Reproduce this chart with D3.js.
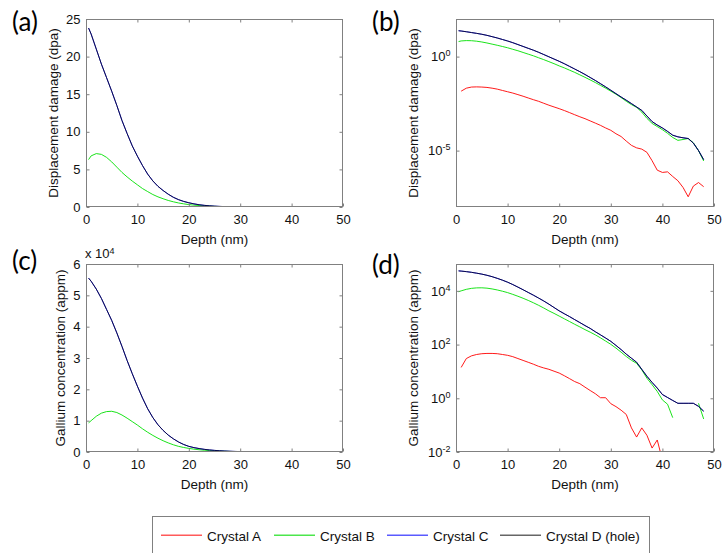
<!DOCTYPE html>
<html>
<head>
<meta charset="utf-8">
<script src="https://cdn.jsdelivr.net/npm/d3@7"></script>
<style>
  body { margin: 0; background: #fff; }
  svg { display: block; }
  text { font-family: "Liberation Sans", Arial, Helvetica, sans-serif; }
  text.tag { font-family: Lato, "Open Sans", sans-serif; }
</style>
</head>
<body>
<svg id="chart" width="723" height="553"></svg>
<script>
// Depth grid (nm) shared by every profile
const depth = [0.5, 1, 2, 3, 4, 5, 6, 7, 8, 9, 10, 11, 12, 13, 14, 15, 16, 17, 18, 19, 20,
  21, 22, 23, 24, 25, 26, 27, 28, 29, 30, 31, 32, 33, 34, 35, 36, 37, 38, 39, 40,
  41, 42, 43, 44, 45, 46, 47, 48];

// Displacement damage (dpa) per crystal
const dpaA = [null, 0.0145, 0.0209, 0.0240, 0.0245, 0.0240, 0.0229, 0.0209, 0.0186, 0.0158, 0.0135,
  0.0115, 0.0095, 0.0078, 0.0063, 0.0051, 0.0042, 0.0033, 0.0026, 0.0021, 0.0017,
  0.00135, 0.00105, 8.1e-4, 6.3e-4, 5.0e-4, 3.8e-4, 2.9e-4, 2.2e-4, 1.6e-4, 1.2e-4,
  7.9e-5, 5.6e-5, 3.2e-5, 1.9e-5, 1.4e-5, 1.2e-5, 8.1e-6, 2.9e-6, 9.1e-7, 6.9e-7,
  7.4e-7, 4.2e-7, 2.5e-7, 1.1e-7, 3.5e-8, 1.3e-7, 2.0e-7, 1.2e-7];
const dpaB = [6.3, 6.8, 7.1, 7.0, 6.6, 6.0, 5.3, 4.6, 4.0, 3.45, 2.95,
  2.45, 2.05, 1.66, 1.35, 1.10, 0.87, 0.69, 0.54, 0.42, 0.32,
  0.25, 0.19, 0.145, 0.107, 0.079, 0.0575, 0.0417, 0.0295, 0.0209, 0.0145,
  0.0100, 0.0066, 0.0042, 0.0028, 0.0020, 0.00112, 5.2e-4, 2.8e-4, 1.9e-4, 1.3e-4,
  8.3e-5, 5.0e-5, 3.5e-5, 3.9e-5, 4.4e-5, 2.6e-5, 1.0e-5, 2.8e-6];
const dpaC = [23.8, 23.0, 21.0, 19.0, 17.2, 15.4, 13.5, 11.5, 9.77, 8.13, 6.76,
  5.50, 4.37, 3.47, 2.75, 2.19, 1.70, 1.29, 0.977, 0.741, 0.562,
  0.417, 0.302, 0.219, 0.158, 0.112, 0.0776, 0.0537, 0.0363, 0.0245, 0.0162,
  0.0107, 0.00708, 0.00479, 0.00316, 0.00209, 0.00138, 6.9e-4, 3.5e-4, 2.3e-4, 1.6e-4,
  1.05e-4, 6.6e-5, 5.4e-5, 4.8e-5, 4.4e-5, 2.5e-5, 1.0e-5, 3.3e-6];
const dpaD = [23.8, 23.0, 21.0, 19.0, 17.2, 15.4, 13.5, 11.5, 9.77, 8.13, 6.76,
  5.50, 4.37, 3.47, 2.75, 2.19, 1.70, 1.29, 0.977, 0.741, 0.562,
  0.417, 0.302, 0.219, 0.158, 0.112, 0.0776, 0.0537, 0.0363, 0.0245, 0.0162,
  0.0107, 0.00708, 0.00479, 0.00316, 0.00209, 0.00138, 6.9e-4, 3.5e-4, 2.3e-4, 1.6e-4,
  1.05e-4, 6.6e-5, 5.4e-5, 4.8e-5, 4.4e-5, 2.5e-5, 1.0e-5, 3.3e-6];

// Gallium concentration (appm) per crystal
const gaA = [null, 14.1, 30.2, 38.0, 42.7, 45.7, 46.8, 46.8, 45.7, 42.7, 39.8,
  35.5, 30.2, 25.7, 21.9, 18.6, 15.5, 13.5, 12.0, 10.2, 8.7,
  6.9, 5.4, 4.2, 3.5, 2.6, 1.95, 1.48, 1.05, 1.05, 0.63,
  0.49, 0.36, 0.25, 0.079, 0.036, 0.079, 0.042, 0.014, 0.028, 0.005,
  null, null, null, null, null, null, null, null];
const gaB = [9300, 10000, 11400, 12400, 12900, 13000, 12600, 11800, 10800, 9700, 8600,
  7400, 6300, 5300, 4400, 3600, 2900, 2300, 1800, 1450, 1150,
  910, 720, 570, 455, 360, 290, 230, 178, 135, 102,
  74, 52, 36, 26, 20, 11.5, 5.6, 3.2, 1.8, 0.87,
  0.6, 0.19, null, null, null, null, 0.65, 0.17];
const gaC = [55500, 54500, 52000, 49000, 45500, 42000, 38000, 33700, 29200, 25000, 21000,
  17200, 13800, 11000, 8700, 6900, 5400, 4200, 3200, 2400, 1800,
  1400, 1100, 850, 660, 510, 400, 300, 230, 175, 132,
  93, 65, 44, 31, 22, 12, 6.6, 3.9, 2.4, 1.38,
  1.07, 0.83, 0.65, 0.65, 0.65, 0.65, 0.5, 0.33];
const gaD = [55500, 54500, 52000, 49000, 45500, 42000, 38000, 33700, 29200, 25000, 21000,
  17200, 13800, 11000, 8700, 6900, 5400, 4200, 3200, 2400, 1800,
  1400, 1100, 850, 660, 510, 400, 300, 230, 175, 132,
  93, 65, 44, 31, 22, 12, 6.6, 3.9, 2.4, 1.38,
  1.07, 0.83, 0.65, 0.65, 0.65, 0.65, 0.5, 0.33];

// Tick values
const depthTicks = [0, 10, 20, 30, 40, 50];
const dpaLinTicks = [0, 5, 10, 15, 20, 25];
const dpaLogTicks = [1e-5, 1];
const gaLinTicks = [0, 1e4, 2e4, 3e4, 4e4, 5e4, 6e4];
const gaLogTicks = [1e-2, 1, 1e2, 1e4];

// Legend entries
const seriesNames = ["Crystal A", "Crystal B", "Crystal C", "Crystal D (hole)"];
const seriesColors = ["#ff0000", "#00e000", "#0000ff", "#000000"];
const legendColors = ["#ff5a5a", "#4ce64c", "#5a5aff", "#666666"];

const AXIS_GREY = "#808080";
const TEXT_COL = "#111";

const svg = d3.select("#chart");

const panels = [
  { tag: "(a)", box: [86, 343, 19, 207], log: false, domain: [0, 25], ticks: dpaLinTicks,
    data: [dpaA, dpaB, dpaC, dpaD], ylabel: "Displacement damage (dpa)", ylabelX: 53, tagPos: [12, 31] },
  { tag: "(b)", box: [456, 714, 19, 207], log: true, domain: [1e-8, 1e2], ticks: dpaLogTicks,
    data: [dpaA, dpaB, dpaC, dpaD], ylabel: "Displacement damage (dpa)", ylabelX: 413, tagPos: [372, 31] },
  { tag: "(c)", box: [86, 343, 264, 452], log: false, domain: [0, 6e4], ticks: gaLinTicks,
    data: [gaA, gaB, gaC, gaD], ylabel: "Gallium concentration (appm)", ylabelX: 60, tagPos: [12, 270],
    scaleNote: "4" },
  { tag: "(d)", box: [456, 714, 264, 452], log: true, domain: [1e-2, 1e5], ticks: gaLogTicks,
    data: [gaA, gaB, gaC, gaD], ylabel: "Gallium concentration (appm)", ylabelX: 413, tagPos: [372, 274] }
];

function superscriptLabel(sel, v) {
  const e = Math.round(Math.log10(v));
  sel.text(null);
  sel.append("tspan").text("10");
  sel.append("tspan").attr("dy", "-0.55em").style("font-size", "9px").text(String(e));
}

panels.forEach((p, i) => {
  const [L, R, T, B] = p.box;
  const x = d3.scaleLinear().domain([0, 50]).range([L, R]);
  const y = (p.log ? d3.scaleLog() : d3.scaleLinear()).domain(p.domain).range([B, T]);

  const g = svg.append("g");

  g.append("clipPath").attr("id", "clip" + i)
    .append("rect").attr("x", L).attr("y", T).attr("width", R - L).attr("height", B - T);

  // profiles: C is drawn under D, which is slightly translucent
  const plot = g.append("g").attr("clip-path", `url(#clip${i})`);
  p.data.forEach((vals, k) => {
    const pts = depth.map((d, j) => [d, vals[j]]);
    const line = d3.line()
      .defined(d => d[1] != null && (!p.log || d[1] > 0))
      .x(d => x(d[0]))
      .y(d => y(d[1]));
    plot.append("path")
      .attr("d", line(pts))
      .attr("fill", "none")
      .attr("stroke", seriesColors[k])
      .attr("stroke-opacity", k === 3 ? 0.8 : 1)
      .attr("stroke-width", 0.9);
  });

  // frame
  g.append("rect").attr("x", L + 0.5).attr("y", T + 0.5)
    .attr("width", R - L - 1).attr("height", B - T - 1)
    .attr("fill", "none").attr("stroke", AXIS_GREY).attr("stroke-width", 1);

  const styleAxis = a => {
    a.select(".domain").remove();
    a.selectAll(".tick line").attr("stroke", AXIS_GREY);
    a.selectAll(".tick text").attr("fill", TEXT_COL)
      .attr("font-family", null).attr("font-size", null).style("font-size", "13px");
    a.attr("font-family", null).attr("font-size", null);
  };

  // x axes (labels bottom, inward ticks top and bottom)
  g.append("g").attr("transform", `translate(0,${B - 0.5})`)
    .call(d3.axisBottom(x).tickValues(depthTicks).tickSizeInner(-3).tickSizeOuter(0).tickPadding(8))
    .call(styleAxis);
  g.append("g").attr("transform", `translate(0,${T + 0.5})`)
    .call(d3.axisTop(x).tickValues(depthTicks.slice(1, -1)).tickSizeInner(-3).tickSizeOuter(0).tickFormat(""))
    .call(styleAxis);

  // y axes
  const yFmt = p.log ? (() => "") : (p.scaleNote ? (v => String(v / 1e4)) : (v => String(v)));
  const yl = g.append("g").attr("transform", `translate(${L + 0.5},0)`)
    .call(d3.axisLeft(y).tickValues(p.ticks).tickSizeInner(-3).tickSizeOuter(0).tickPadding(6).tickFormat(yFmt))
    .call(styleAxis);
  if (p.log) {
    yl.selectAll(".tick text").each(function (v) { superscriptLabel(d3.select(this), v); });
  }
  g.append("g").attr("transform", `translate(${R - 0.5},0)`)
    .call(d3.axisRight(y).tickValues(p.ticks).tickSizeInner(-3).tickSizeOuter(0).tickFormat(""))
    .call(styleAxis);

  // axis titles
  g.append("text")
    .attr("x", (L + R) / 2).attr("y", B + 37)
    .attr("text-anchor", "middle")
    .style("font-size", "13.5px").attr("fill", TEXT_COL)
    .text("Depth (nm)");
  g.append("text")
    .attr("transform", `translate(${p.ylabelX},${(T + B) / 2}) rotate(-90)`)
    .attr("dy", "0.35em")
    .attr("text-anchor", "middle")
    .style("font-size", "13.5px").attr("fill", TEXT_COL)
    .text(p.ylabel);

  // exponent note above the linear concentration axis
  if (p.scaleNote) {
    const t = g.append("text").attr("x", L - 1).attr("y", T - 6)
      .style("font-size", "13px").attr("fill", TEXT_COL);
    t.append("tspan").text("x 10");
    t.append("tspan").attr("dy", "-0.5em").style("font-size", "9px").text(p.scaleNote);
  }

  // panel tag
  svg.append("text").attr("class", "tag")
    .attr("x", p.tagPos[0]).attr("y", p.tagPos[1])
    .style("font-size", "26px").attr("fill", "#000")
    .text(p.tag);
});

// legend
const legend = svg.append("g");
legend.append("rect")
  .attr("x", 152.5).attr("y", 516.5).attr("width", 497).attr("height", 60)
  .attr("fill", "#fff").attr("stroke", AXIS_GREY).attr("stroke-width", 1);
const legendX = d3.scalePoint().domain(seriesNames).range([161, 500]);
seriesNames.forEach((name, k) => {
  const x0 = legendX(name);
  legend.append("rect")
    .attr("x", x0).attr("y", 534.5).attr("width", 41).attr("height", 1.5)
    .attr("fill", legendColors[k]);
  legend.append("text")
    .attr("x", x0 + 46).attr("y", 540.5)
    .style("font-size", "13.5px").attr("fill", TEXT_COL)
    .text(name);
});
</script>
</body>
</html>
